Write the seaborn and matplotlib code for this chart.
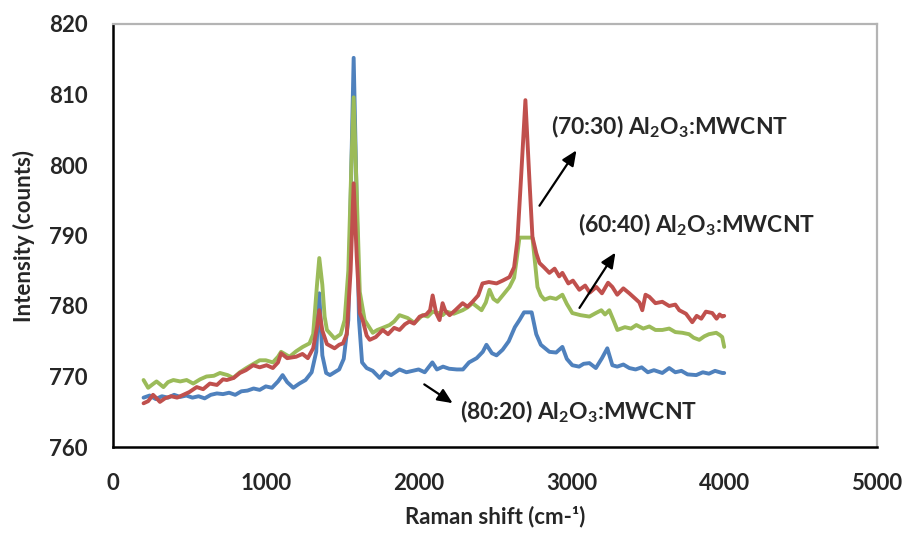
import matplotlib
matplotlib.use("Agg")
import matplotlib.pyplot as plt
import seaborn as sns
import pandas as pd

# ---------------- data ----------------
x_8020 = [200, 240, 280, 320, 360, 400, 440, 480, 520, 560, 600, 640, 680, 720, 760, 800, 840, 880, 920, 960,
          1000, 1040, 1080, 1110, 1140, 1180, 1220, 1260, 1300, 1330, 1350, 1370, 1395, 1420, 1450, 1480, 1510,
          1540, 1560, 1575, 1590, 1610, 1630, 1660, 1700, 1745, 1780, 1820, 1875, 1920, 1960, 2000, 2040, 2090,
          2120, 2160, 2200, 2250, 2290, 2330, 2380, 2420, 2444, 2480, 2510, 2550, 2590, 2630, 2660, 2690, 2740,
          2770, 2800, 2856, 2900, 2941, 2970, 3006, 3050, 3080, 3118, 3160, 3200, 3235, 3268, 3300, 3340, 3379,
          3420, 3460, 3500, 3540, 3595, 3640, 3680, 3720, 3760, 3817, 3860, 3900, 3940, 3987, 4000]
y_8020 = [767.0, 767.3, 766.8, 767.2, 767.0, 767.4, 767.1, 767.3, 767.0, 767.2, 766.9, 767.4, 767.6, 767.5,
          767.7, 767.4, 767.9, 768.0, 768.3, 768.1, 768.6, 768.4, 769.3, 770.2, 769.2, 768.4, 769.0, 769.5,
          770.6, 773.5, 781.8, 773.0, 770.5, 770.2, 770.6, 771.0, 772.5, 778.0, 800.0, 815.2, 800.0, 778.0,
          772.0, 771.2, 770.8, 769.8, 770.7, 770.2, 771.0, 770.6, 770.8, 771.0, 770.6, 772.0, 771.0, 771.4,
          771.1, 771.0, 771.0, 772.0, 772.6, 773.5, 774.5, 773.3, 773.0, 773.8, 775.0, 777.0, 778.0, 779.1,
          779.1, 776.0, 774.5, 773.5, 773.4, 774.2, 772.5, 771.6, 771.4, 771.8, 771.9, 771.2, 772.6, 774.0,
          771.6, 771.4, 771.7, 771.2, 771.0, 771.3, 770.6, 770.9, 770.5, 771.2, 770.6, 770.8, 770.3, 770.2,
          770.6, 770.4, 770.8, 770.5, 770.5]

x_7030 = [200, 230, 262, 290, 307, 340, 380, 420, 460, 500, 548, 590, 634, 680, 720, 745, 790, 830, 870, 917,
          960, 1005, 1046, 1080, 1100, 1140, 1198, 1240, 1275, 1310, 1335, 1350, 1370, 1400, 1450, 1480, 1505,
          1530, 1555, 1575, 1595, 1615, 1634, 1660, 1680, 1720, 1765, 1800, 1840, 1875, 1910, 1940, 1970, 2007,
          2050, 2075, 2092, 2115, 2137, 2157, 2175, 2203, 2240, 2288, 2320, 2353, 2390, 2418, 2460, 2510, 2550,
          2595, 2625, 2647, 2670, 2699, 2725, 2745, 2770, 2791, 2820, 2856, 2890, 2920, 2941, 2980, 3010, 3052,
          3090, 3120, 3163, 3200, 3240, 3268, 3300, 3340, 3379, 3420, 3445, 3464, 3485, 3510, 3550, 3595, 3640,
          3680, 3706, 3750, 3791, 3820, 3850, 3880, 3922, 3950, 3970, 3987, 4000]
y_7030 = [766.2, 766.5, 767.4, 766.8, 766.4, 766.9, 767.2, 767.0, 767.4, 767.8, 768.5, 768.2, 769.0, 768.8,
          769.6, 769.5, 769.8, 770.5, 770.9, 771.6, 771.3, 771.6, 771.2, 772.0, 773.3, 772.6, 772.8, 773.2,
          772.6, 774.0, 777.0, 779.4, 776.5, 774.6, 774.0, 774.5, 774.7, 776.0, 785.0, 797.4, 787.0, 779.0,
          778.0, 775.8, 775.2, 775.6, 776.6, 776.0, 776.9, 776.6, 777.4, 777.8, 777.5, 778.5, 778.8, 779.4,
          781.5, 779.0, 778.0, 780.4, 779.3, 778.7, 779.4, 780.4, 779.9, 780.6, 781.5, 783.2, 783.4, 783.2,
          783.6, 784.1, 785.5, 789.4, 798.0, 809.2, 798.0, 789.8, 787.5, 786.1, 785.5, 784.7, 785.3, 784.2,
          784.7, 783.2, 783.6, 782.3, 782.9, 781.9, 782.7, 781.8, 783.3, 782.7, 781.6, 782.5, 781.8, 781.0,
          780.5, 779.4, 781.6, 781.3, 780.4, 780.6, 780.0, 780.2, 779.4, 778.9, 777.7, 778.6, 778.2, 779.2,
          779.0, 778.2, 778.8, 778.5, 778.6]

x_6040 = [200, 230, 260, 285, 330, 360, 395, 440, 482, 525, 570, 612, 660, 700, 750, 787, 830, 873, 920, 960,
          1000, 1046, 1080, 1100, 1155, 1200, 1242, 1286, 1310, 1335, 1350, 1370, 1385, 1400, 1450, 1490, 1516,
          1540, 1560, 1575, 1595, 1615, 1647, 1700, 1730, 1765, 1810, 1840, 1875, 1928, 1973, 2026, 2060, 2092,
          2130, 2157, 2183, 2230, 2288, 2320, 2353, 2412, 2440, 2464, 2490, 2516, 2550, 2595, 2625, 2641, 2660,
          2745, 2765, 2778, 2800, 2824, 2860, 2900, 2941, 2970, 3006, 3060, 3118, 3160, 3196, 3220, 3248, 3275,
          3301, 3350, 3390, 3425, 3470, 3510, 3550, 3595, 3640, 3680, 3726, 3770, 3800, 3837, 3870, 3900, 3948,
          3970, 3987, 4000]
y_6040 = [769.5, 768.4, 768.9, 769.3, 768.5, 769.2, 769.5, 769.3, 769.5, 769.0, 769.6, 770.0, 770.1, 770.5,
          770.2, 769.8, 770.6, 771.2, 771.8, 772.3, 772.3, 772.0, 772.8, 773.5, 772.8, 773.6, 774.2, 774.7,
          776.0, 783.0, 786.8, 783.0, 778.5, 776.6, 775.4, 776.0, 778.0, 785.0, 800.0, 809.6, 796.0, 782.0,
          778.0, 776.2, 776.6, 776.9, 777.3, 777.8, 778.7, 778.3, 777.6, 778.7, 778.5, 779.2, 779.0, 778.7,
          779.2, 778.9, 779.4, 779.8, 780.4, 779.4, 780.5, 782.3, 781.0, 780.6, 781.5, 782.7, 784.0, 786.5,
          789.7, 789.7, 785.5, 782.7, 781.5, 780.9, 781.2, 781.0, 781.6, 780.3, 779.0, 778.7, 778.5, 779.0,
          779.4, 778.8, 779.4, 778.0, 776.6, 777.0, 776.8, 777.3, 776.8, 777.1, 776.6, 776.6, 776.8, 776.3,
          776.2, 776.0, 775.5, 775.2, 775.7, 776.0, 776.2, 775.9, 775.6, 774.2]

series_names = ["(80:20)", "(70:30)", "(60:40)"]
x_ticks = [0, 1000, 2000, 3000, 4000, 5000]
y_ticks = [760, 770, 780, 790, 800, 810, 820]

# ---------------- style ----------------
sns.set_style("white")
plt.rcParams["font.family"] = ["Lato", "DejaVu Sans"]
plt.rcParams["font.weight"] = "bold"
plt.rcParams["mathtext.fontset"] = "custom"
plt.rcParams["mathtext.rm"] = "Lato:bold"
plt.rcParams["mathtext.bf"] = "Lato:bold"
plt.rcParams["mathtext.it"] = "Lato:bold"

fig = plt.figure(figsize=(9.06, 5.33), dpi=100)
ax = fig.add_axes([113 / 906, 1 - 447 / 533, (877 - 113) / 906, (447 - 24) / 533])

colors = {"(80:20)": "#4F81BD", "(70:30)": "#C0504D", "(60:40)": "#9BBB59"}
df_b = pd.DataFrame({"x": x_8020, "y": y_8020})
df_r = pd.DataFrame({"x": x_7030, "y": y_7030})
df_g = pd.DataFrame({"x": x_6040, "y": y_6040})

lw = 2.8
sns.lineplot(data=df_b, x="x", y="y", ax=ax, color=colors["(80:20)"], lw=lw, estimator=None, sort=False)
sns.lineplot(data=df_g, x="x", y="y", ax=ax, color=colors["(60:40)"], lw=lw, estimator=None, sort=False)
sns.lineplot(data=df_r, x="x", y="y", ax=ax, color=colors["(70:30)"], lw=lw, estimator=None, sort=False)

ax.set_xlim(0, 5000)
ax.set_ylim(760, 820)
ax.set_xticks(x_ticks)
ax.set_yticks(y_ticks)
ax.set_xticklabels([str(v) for v in x_ticks], fontsize=16, fontweight="bold")
ax.set_yticklabels([str(v) for v in y_ticks], fontsize=16, fontweight="bold")
ax.tick_params(axis="both", direction="out", length=6, width=1.6, color="black")
ax.tick_params(axis="x", pad=13)
ax.tick_params(axis="y", pad=12)

for s in ["left", "bottom"]:
    ax.spines[s].set_color("black")
    ax.spines[s].set_linewidth(1.8)
for s in ["top", "right"]:
    ax.spines[s].set_color("#B4B4B4")
    ax.spines[s].set_linewidth(1.6)
ax.grid(False)

ax.set_xlabel("Raman shift (cm-\u00b9)", fontsize=16, fontweight="bold", labelpad=8)
ax.set_ylabel("Intensity (counts)", fontsize=16, fontweight="bold", labelpad=10)

sub = r"Al$_\mathbf{2}$O$_\mathbf{3}$:MWCNT"
ax.text(2866, 805.4, "(70:30) " + sub, fontsize=16.5, fontweight="bold", va="center", ha="left")
ax.text(3043, 791.5, "(60:40) " + sub, fontsize=16.5, fontweight="bold", va="center", ha="left")
ax.text(2271, 765.0, "(80:20) " + sub, fontsize=16.5, fontweight="bold", va="center", ha="left")

arrow = dict(arrowstyle="-|>,head_length=0.9,head_width=0.4", color="black", lw=1.6)
ax.annotate("", xy=(3043, 802.4), xytext=(2781, 793.9), arrowprops=arrow)
ax.annotate("", xy=(3298, 787.9), xytext=(3043, 779.4), arrowprops=arrow)
ax.annotate("", xy=(2238, 766.0), xytext=(2022, 769.1), arrowprops=arrow)

fig.savefig("out.png", dpi=100)
